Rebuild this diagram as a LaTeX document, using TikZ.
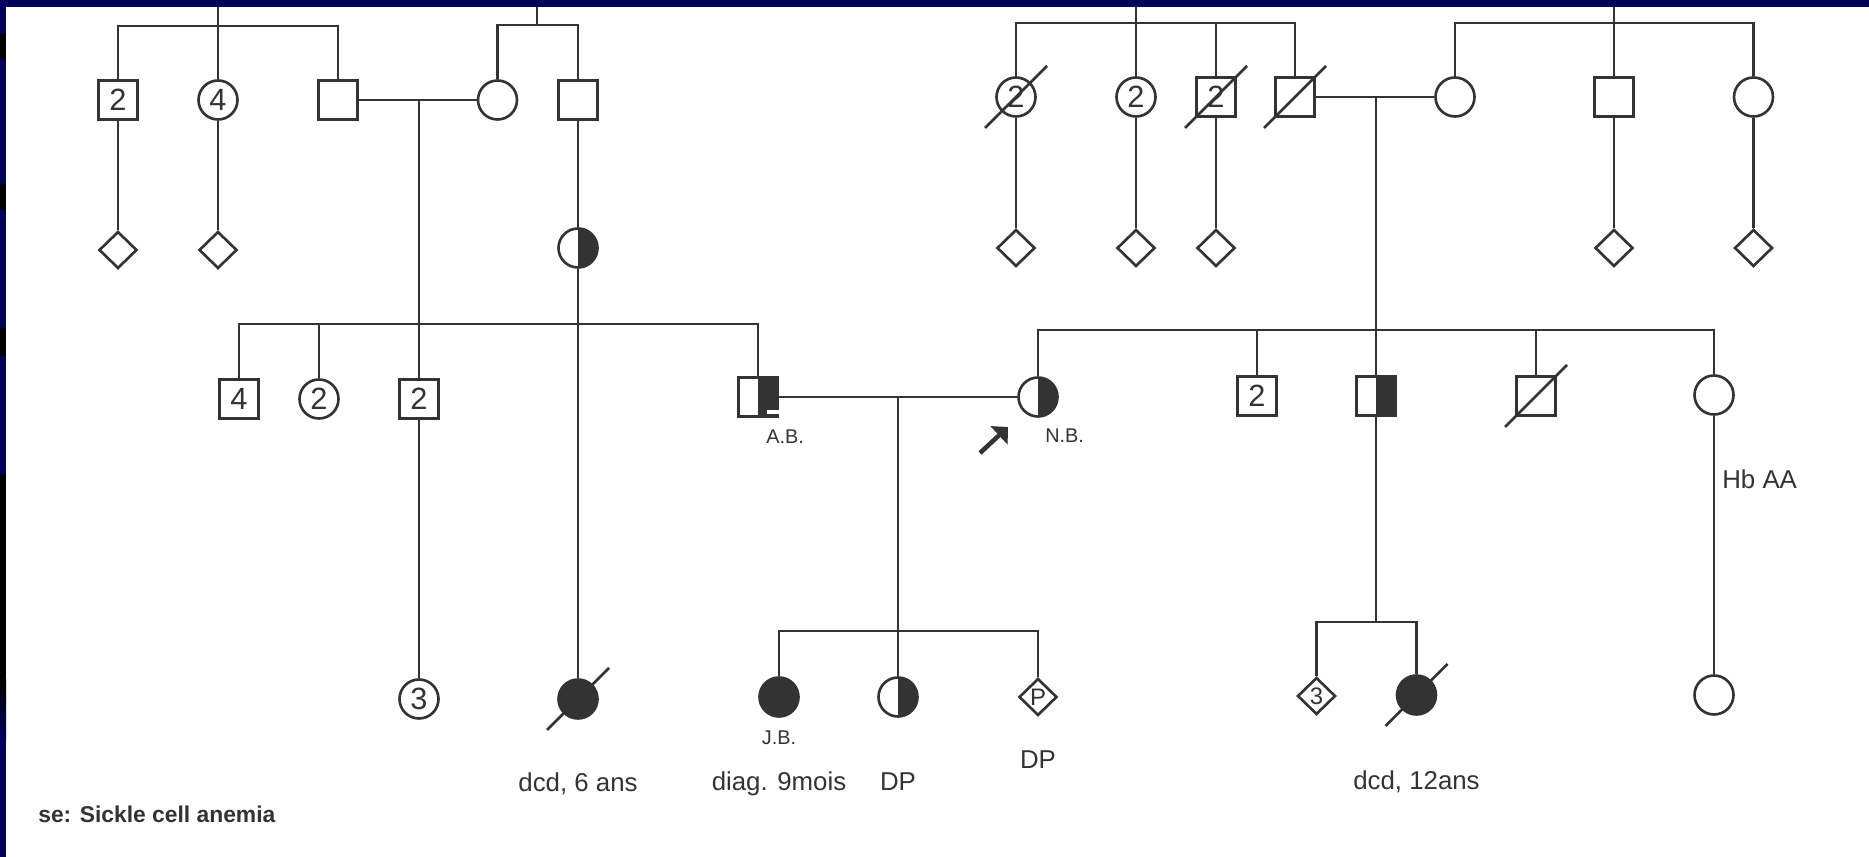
\documentclass[tikz,border=0pt]{standalone}
\usepackage{fontspec}
\setmainfont{Liberation Sans}
\usetikzlibrary{positioning,arrows.meta,shapes.geometric}

\definecolor{ink}{HTML}{333333}
\definecolor{slidenavy}{RGB}{0,0,90}
\newcommand{\pedNum}{\fontsize{17.5pt}{17.5pt}\selectfont}
\newcommand{\pedLetter}{\fontsize{13.6pt}{13.6pt}\selectfont}
\newcommand{\pedTag}{\fontsize{11.3pt}{11.3pt}\selectfont}
\newcommand{\pedNote}{\fontsize{14.7pt}{14.7pt}\selectfont}
\newcommand{\pedKey}{\fontsize{13pt}{13pt}\selectfont\bfseries}

\begin{document}
\begin{tikzpicture}[
  x=0.02cm, y=-0.02cm, color=ink, line width=1.5pt,
  male/.style={draw, rectangle, minimum width=0.77cm, minimum height=0.79cm, inner sep=0pt, font=\pedNum},
  female/.style={draw, circle, minimum size=0.78cm, inner sep=0pt, font=\pedNum},
  sexless/.style={draw, diamond, minimum width=0.76cm, minimum height=0.74cm, inner sep=0pt, font=\pedLetter},
  carrier/.style={path picture={\fill[ink] (path picture bounding box.north) rectangle (path picture bounding box.south east);}},
  affected/.style={fill=ink},
  slash/.style={line width=1.5pt},
  tag/.style={inner sep=0pt, font=\pedTag},
  note/.style={inner sep=0pt, font=\pedNote},
  pointer/.style={line width=2.6pt, -{Triangle[length=7pt, width=14pt]}},
]
% slide frame
\useasboundingbox (0,0) rectangle (1869,857);
\fill[white] (0,0) rectangle (1869,857);
\fill[slidenavy] (0,0) rectangle (1869,7);
\fill[slidenavy] (0,0) rectangle (6,857);
\fill[black] (0,34) rectangle (6,59);
\fill[black] (0,184) rectangle (6,210);
\fill[black] (0,328) rectangle (6,356);
\fill[black] (0,475) rectangle (6,678);
\shade[top color=black, bottom color=slidenavy] (0,678) rectangle (6,740);

% grandparents, father's side
\node[male] (L1) at (118,100) {2};
\node[female] (L2) at (218,100) {4};
\node[male] (L3) at (338,100) {};
\node[female] (L4) at (497.5,100) {};
\node[male] (L5) at (578,100) {};
\node[sexless] (Ld1) at (118,250) {};
\node[sexless] (Ld2) at (218,250) {};
\node[female, carrier] (L6) at (578,248) {};

% grandparents, mother's side
\node[female] (T1) at (1016,97) {2};
\node[female] (T2) at (1136,97) {2};
\node[male] (T3) at (1216,97) {2};
\node[male] (T4) at (1295,97) {};
\node[female] (T5) at (1455,97) {};
\node[male] (T6) at (1614,97) {};
\node[female] (T7) at (1753.5,97) {};
\node[sexless] (Td1) at (1016,248) {};
\node[sexless] (Td2) at (1136,248) {};
\node[sexless] (Td3) at (1216,248) {};
\node[sexless] (Td6) at (1614,248) {};
\node[sexless] (Td7) at (1753.5,248) {};

% parents and their sibs
\node[male] (M1) at (239,399) {4};
\node[female] (M2) at (319,399) {2};
\node[male] (M3) at (419,399) {2};
\node[male, carrier] (AB) at (758,397) {};
\node[female, carrier] (NB) at (1038,397) {};
\node[male] (R1) at (1257,396) {2};
\node[male, carrier] (R2) at (1376,396) {};
\node[male] (R3) at (1536,396) {};
\node[female] (R4) at (1714,395) {};

% children
\node[female] (B1) at (419,699) {3};
\node[female, affected] (B2) at (578,699) {};
\node[female, affected] (JB) at (779,697) {};
\node[female, carrier] (B4) at (898,697) {};
\node[sexless] (B5) at (1038,697) {P};
\node[sexless] (B7) at (1316.5,696) {3};
\node[female, affected] (B8) at (1416.5,695) {};
\node[female] (B9) at (1714,695) {};

% deceased
\draw[slash] (T1) ++(-31,31) -- ++(62,-62);
\draw[slash] (T3) ++(-31,31) -- ++(62,-62);
\draw[slash] (T4) ++(-31,31) -- ++(62,-62);
\draw[slash] (R3) ++(-31,31) -- ++(62,-62);
\draw[slash] (B2) ++(-31,31) -- ++(62,-62);
\draw[slash] (B8) ++(-31,31) -- ++(62,-62);

% sibships and marriages
\coordinate (topL1) at (218,7);
\coordinate (sibL1) at (218,26);
\coordinate (topL2) at (537,7);
\coordinate (sibL2) at (537,25);
\coordinate (mL) at (419,100);
\coordinate (sibM) at (419,324);
\draw (topL1) -- (L2);
\draw (L1) |- (sibL1) -| (L3);
\draw (topL2) -- (sibL2);
\draw (L4) |- (sibL2) -| (L5);
\draw (L1) -- (Ld1);
\draw (L2) -- (Ld2);
\draw (L3) -- (L4);
\draw (mL) -- (M3);
\draw (M1) |- (sibM) -| (AB);
\draw (M2) -- (M2 |- sibM);
\draw (L5) -- (L6);
\draw (L6) -- (B2);
\draw (M3) -- (B1);

\coordinate (topT1) at (1136,7);
\coordinate (sibT1) at (1136,23);
\coordinate (topT2) at (1614,7);
\coordinate (sibT2) at (1614,23);
\coordinate (mR) at (1376,97);
\coordinate (sibR) at (1376,330);
\coordinate (sibR2) at (1376,622);
\draw (topT1) -- (T2);
\draw (T1) |- (sibT1) -| (T4);
\draw (T3) -- (T3 |- sibT1);
\draw (topT2) -- (T6);
\draw (T5) |- (sibT2) -| (T7);
\draw (T1) -- (Td1);
\draw (T2) -- (Td2);
\draw (T3) -- (Td3);
\draw (T6) -- (Td6);
\draw (T7) -- (Td7);
\draw (T4) -- (T5);
\draw (mR) -- (R2);
\draw (NB) |- (sibR) -| (R4);
\draw (R1) -- (R1 |- sibR);
\draw (R3) -- (R3 |- sibR);
\draw (R2) -- (sibR2);
\draw (B7) |- (sibR2) -| (B8);
\draw (R4) -- (B9);

\coordinate (mM) at (898,397);
\coordinate (sibB) at (898,631);
\draw (AB) -- (NB);
\draw (mM) -- (B4);
\draw (JB) |- (sibB) -| (B5);
\fill[white] (767,410) rectangle (781,414.5);

% proband
\coordinate (ptrtail) at (980,453);
\coordinate (ptrhead) at (1008,427);
\draw[pointer] (ptrtail) -- (ptrhead);

% labels
\node[tag, anchor=base west] (abtag) at (765,444) {A.B.};
\node[tag, anchor=base west] (nbtag) at (1044,443) {N.B.};
\node[tag, below=0.54cm of JB, anchor=base] (jbtag) {J.B.};
\node[note, below=1.46cm of JB, anchor=base] (diag) {diag. 9mois};
\node[note, below=1.46cm of B4, anchor=base] (dp1) {DP};
\node[note, below=1.04cm of B5, anchor=base] (dp2) {DP};
\node[note, below=1.44cm of B2, anchor=base] (dcd1) {dcd, 6 ans};
\node[note, below=1.48cm of B8, anchor=base] (dcd2) {dcd, 12ans};
\node[note, anchor=base west] (hbaa) at (1721,489) {Hb AA};
\node[inner sep=0pt, font=\pedKey, anchor=base west] (key) at (37,822) {se: Sickle cell anemia};
\end{tikzpicture}
\end{document}
